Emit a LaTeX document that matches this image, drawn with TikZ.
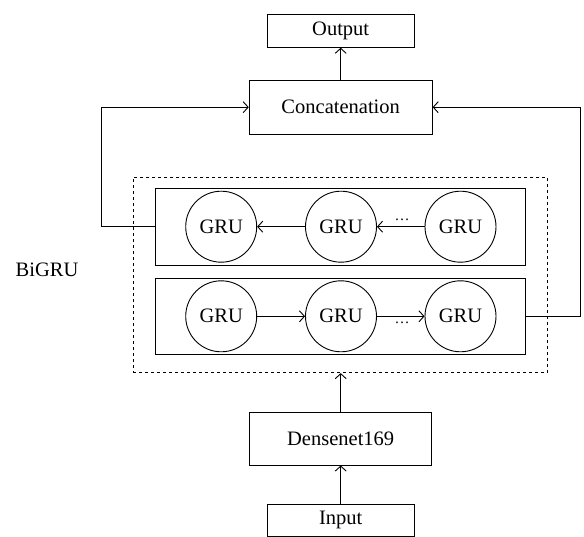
\documentclass[tikz,border=0pt]{standalone}
\usepackage{fontspec}
\setmainfont{Liberation Serif}
\usetikzlibrary{arrows.meta,positioning}
\tikzset{
  box/.style={draw, line width=0.9pt, inner sep=0pt, font=\fontsize{20.5}{23}\selectfont},
  gru/.style={draw, circle, line width=0.9pt, minimum size=71pt, inner sep=0pt, font=\fontsize{20.5}{23}\selectfont},
  conn/.style={line width=0.9pt, -{Straight Barb[length=5pt,width=11pt,line width=0.9pt]}},
  lbl/.style={font=\fontsize{20.5}{23}\selectfont, inner sep=0pt},
  dots/.style={font=\fontsize{15}{17}\selectfont, inner sep=0pt}
}
\begin{document}
\begin{tikzpicture}[x=1pt,y=-1pt]
\useasboundingbox (0,0) rectangle (584,537);
% boxes
\node[box, minimum width=147pt, minimum height=33pt] (out) at (340.7,30.8) {Output};
\node[box, minimum width=183pt, minimum height=54pt] (cat) at (340.7,107.2) {Concatenation};
\node[box, minimum width=182.4pt, minimum height=52.7pt] (dense) at (340.7,438.7) {Densenet169};
\node[box, minimum width=146.7pt, minimum height=32pt] (in) at (340.7,520.2) {Input};
% dashed container
\node[draw, dashed, line width=0.8pt, minimum width=414.4pt, minimum height=195.2pt, inner sep=0pt] (bi) at (340.5,275.1) {};
\node[lbl] (bilbl) at (47,270) {BiGRU};
% inner boxes
\node[draw, line width=0.9pt, minimum width=370pt, minimum height=76.7pt, inner sep=0pt] (up) at (340.7,226.7) {};
\node[draw, line width=0.9pt, minimum width=370pt, minimum height=76pt, inner sep=0pt] (lo) at (340.7,316.3) {};
% GRU cells
\node[gru] (u1) at (221.2,226.7) {GRU};
\node[gru] (u2) at (341,226.7) {GRU};
\node[gru] (u3) at (460.5,226.7) {GRU};
\node[gru] (l1) at (221.2,316.3) {GRU};
\node[gru] (l2) at (341,316.3) {GRU};
\node[gru] (l3) at (460.5,316.3) {GRU};
% arrows within rows
\draw[conn] (u2) -- (u1);
\draw[conn] (u3) -- (u2);
\draw[conn] (l1) -- (l2);
\draw[conn] (l2) -- (l3);
\node[dots, anchor=base] (ud) at (402,220.5) {…};
\node[dots, anchor=base] (ld) at (402,323.5) {…};
% vertical flow
\draw[conn] (in) -- (dense);
\draw[conn] (dense) -- (bi.south -| dense);
\draw[conn] (cat) -- (out);
% feedback paths
\coordinate (lc) at (101.3,226.7);
\coordinate (lt) at (101.3,107.2);
\coordinate (rc) at (580,316.3);
\coordinate (rt) at (580,107.2);
\draw[conn] (up.west) -- (lc) -- (lt) -- (cat.west);
\draw[conn] (lo.east) -- (rc) -- (rt) -- (cat.east);
\end{tikzpicture}
\end{document}
